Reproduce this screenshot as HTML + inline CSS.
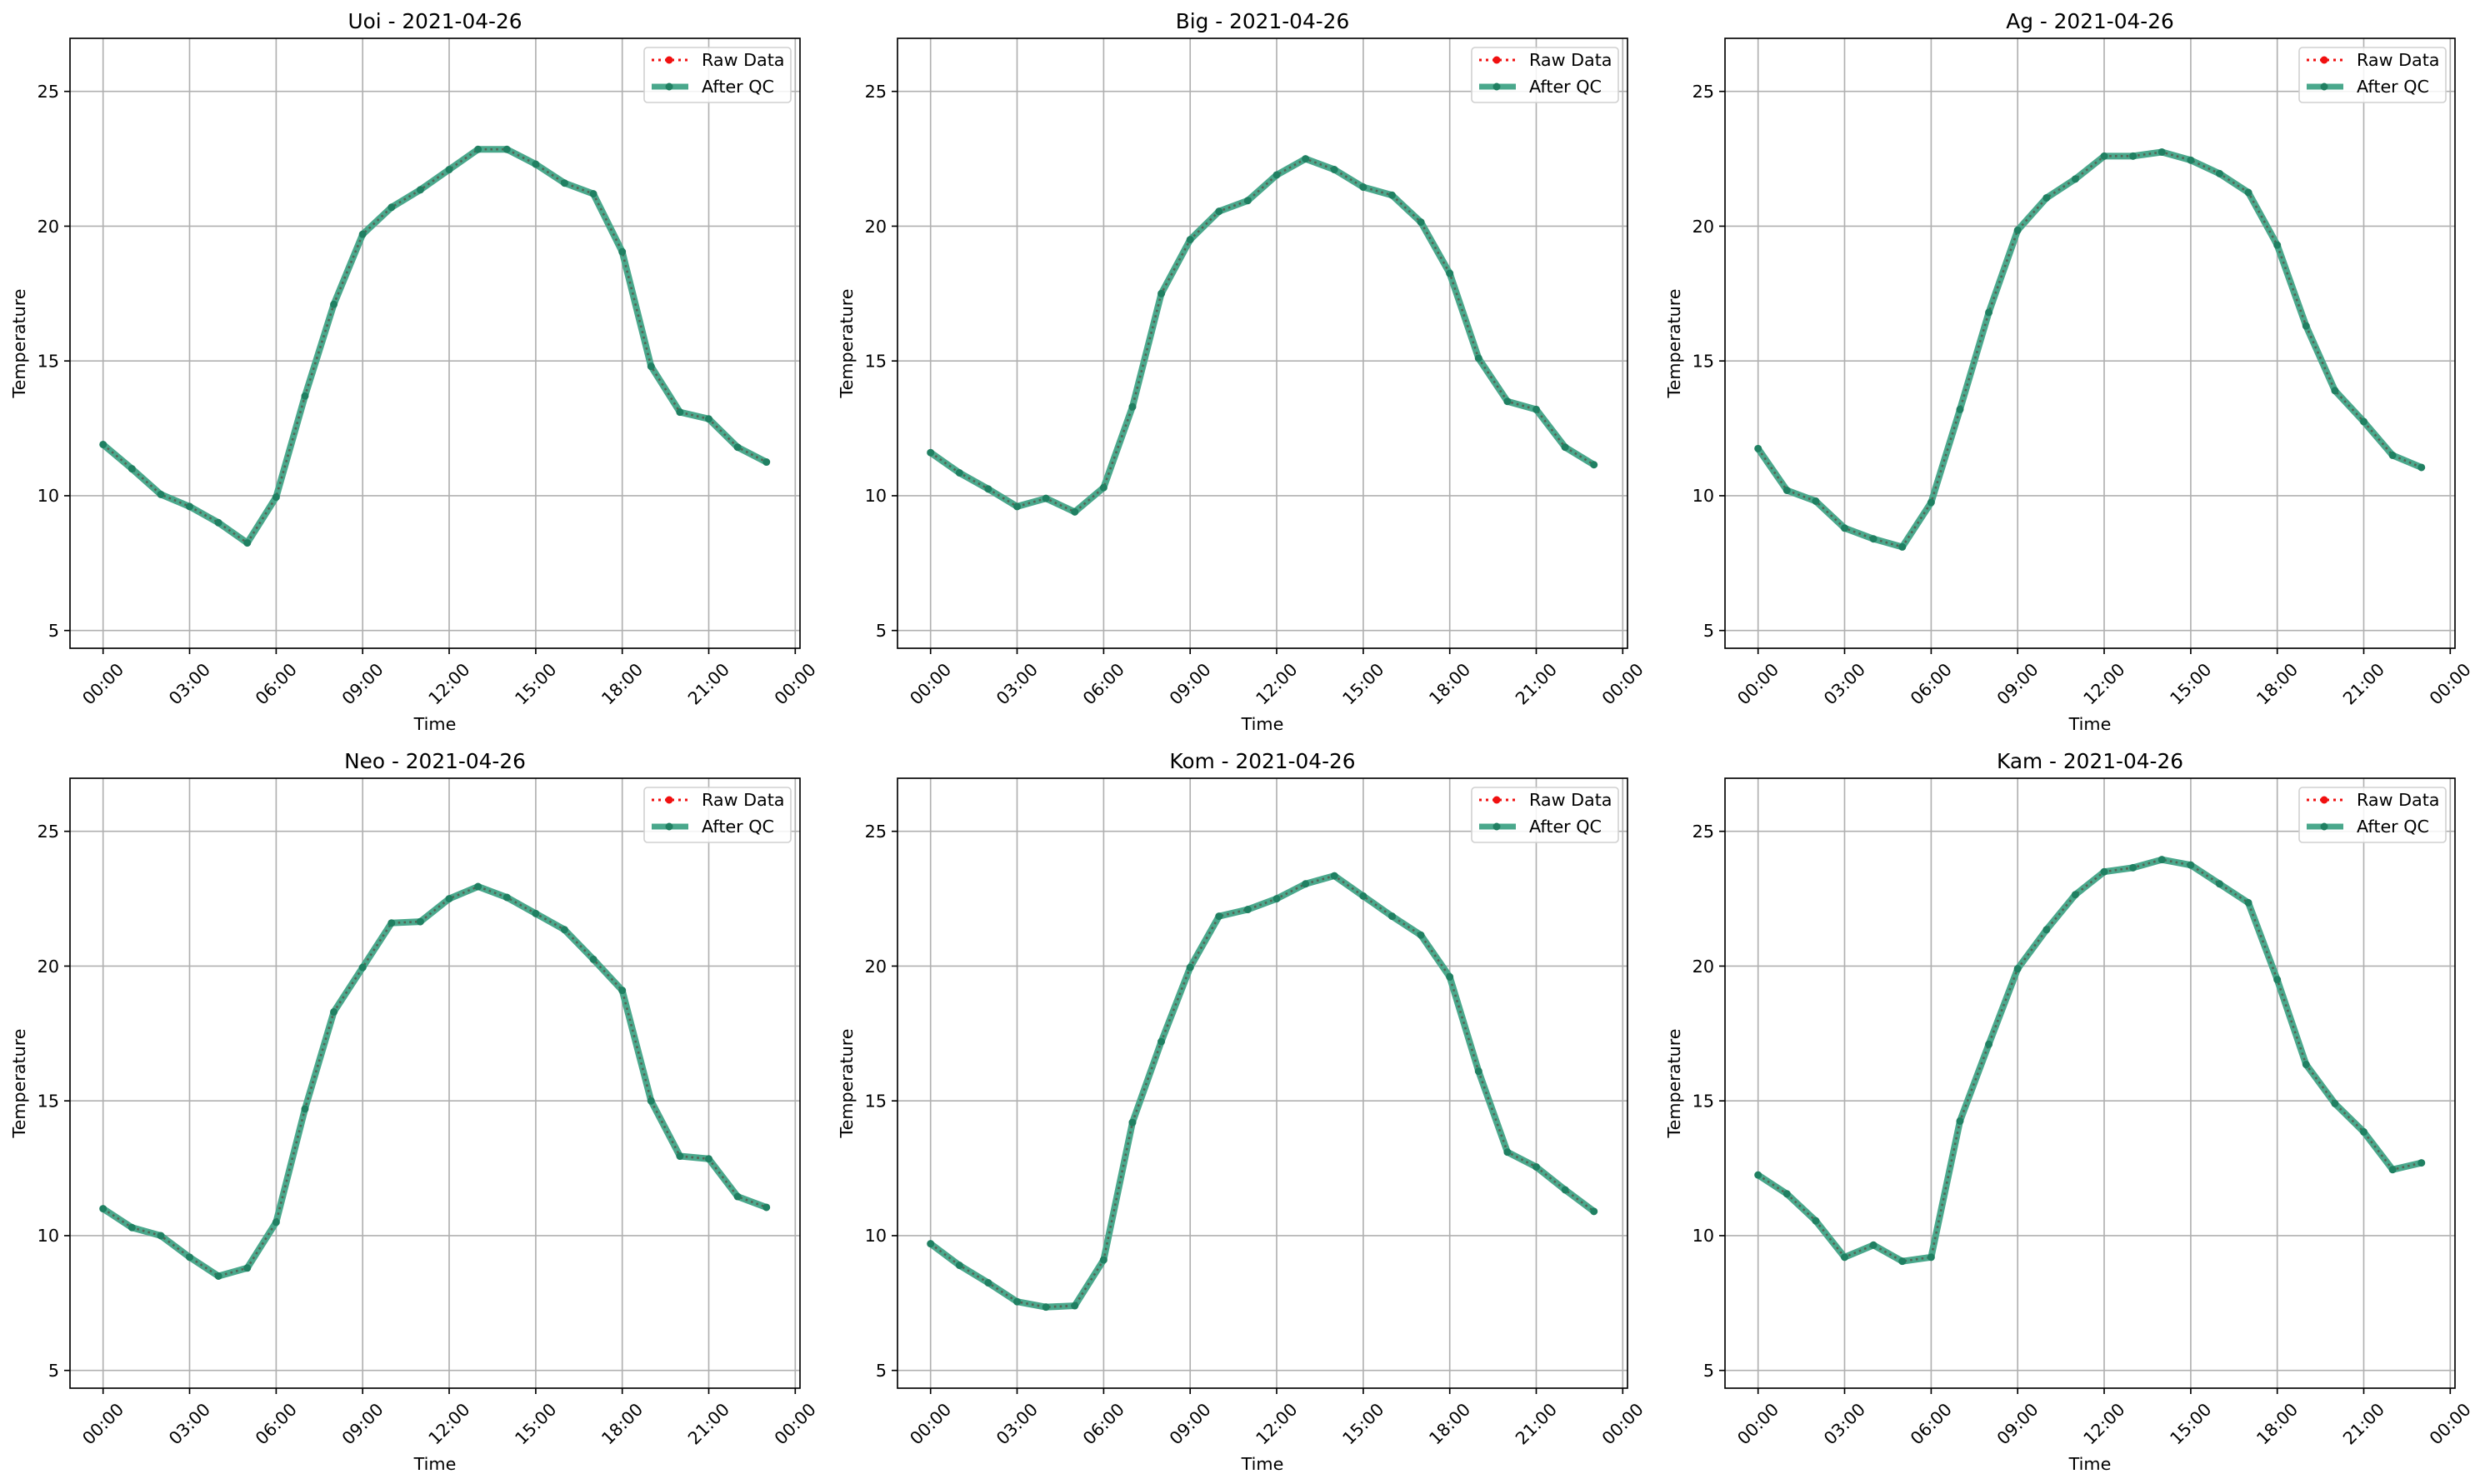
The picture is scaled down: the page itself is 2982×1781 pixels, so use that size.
<!DOCTYPE html>
<html><head><meta charset="utf-8"><style>
html,body{margin:0;padding:0;background:#fff}
svg{display:block}
text{font-family:"DejaVu Sans","Liberation Sans",sans-serif;fill:#000}
.tk{font-size:20.7px}
.ti{font-size:24.8px}
.gr{stroke:#b0b0b0;stroke-width:1.65}
.ln{fill:none;stroke:rgb(74,168,140);stroke-width:8;stroke-linejoin:round;vector-effect:non-scaling-stroke}
.dt{fill:none;stroke:rgb(85,100,85);stroke-width:2.6;stroke-dasharray:2.6 4.2;vector-effect:non-scaling-stroke}
.mk{fill:none;stroke:rgb(32,128,98);stroke-width:9;stroke-linecap:round;vector-effect:non-scaling-stroke}
</style></head><body>
<svg width="2982" height="1781" viewBox="0 0 2982 1781" xmlns="http://www.w3.org/2000/svg">
<defs>
<g id="frame">
  <g class="gr">
    <line x1="123.7" y1="46" x2="123.7" y2="778"/><line x1="227.5" y1="46" x2="227.5" y2="778"/>
    <line x1="331.4" y1="46" x2="331.4" y2="778"/><line x1="435.2" y1="46" x2="435.2" y2="778"/>
    <line x1="539" y1="46" x2="539" y2="778"/><line x1="642.9" y1="46" x2="642.9" y2="778"/>
    <line x1="746.7" y1="46" x2="746.7" y2="778"/><line x1="850.5" y1="46" x2="850.5" y2="778"/>
    <line x1="954.3" y1="46" x2="954.3" y2="778"/>
    <line x1="84" y1="756.7" x2="960" y2="756.7"/><line x1="84" y1="594.95" x2="960" y2="594.95"/>
    <line x1="84" y1="433.2" x2="960" y2="433.2"/><line x1="84" y1="271.45" x2="960" y2="271.45"/>
    <line x1="84" y1="109.7" x2="960" y2="109.7"/>
  </g>
  <g stroke="#000" stroke-width="1.65">
    <line x1="123.7" y1="778" x2="123.7" y2="785"/><line x1="227.5" y1="778" x2="227.5" y2="785"/>
    <line x1="331.4" y1="778" x2="331.4" y2="785"/><line x1="435.2" y1="778" x2="435.2" y2="785"/>
    <line x1="539" y1="778" x2="539" y2="785"/><line x1="642.9" y1="778" x2="642.9" y2="785"/>
    <line x1="746.7" y1="778" x2="746.7" y2="785"/><line x1="850.5" y1="778" x2="850.5" y2="785"/>
    <line x1="954.3" y1="778" x2="954.3" y2="785"/>
    <line x1="77" y1="756.7" x2="84" y2="756.7"/><line x1="77" y1="594.95" x2="84" y2="594.95"/>
    <line x1="77" y1="433.2" x2="84" y2="433.2"/><line x1="77" y1="271.45" x2="84" y2="271.45"/>
    <line x1="77" y1="109.7" x2="84" y2="109.7"/>
  </g>
  <g class="tk" text-anchor="end">
    <text x="71" y="764">5</text><text x="71" y="602">10</text><text x="71" y="440.5">15</text>
    <text x="71" y="279">20</text><text x="71" y="117">25</text>
  </g>
  <g class="tk" text-anchor="middle" dominant-baseline="central">
    <text transform="translate(123.7,821) rotate(-45)">00:00</text>
    <text transform="translate(227.5,821) rotate(-45)">03:00</text>
    <text transform="translate(331.4,821) rotate(-45)">06:00</text>
    <text transform="translate(435.2,821) rotate(-45)">09:00</text>
    <text transform="translate(539,821) rotate(-45)">12:00</text>
    <text transform="translate(642.9,821) rotate(-45)">15:00</text>
    <text transform="translate(746.7,821) rotate(-45)">18:00</text>
    <text transform="translate(850.5,821) rotate(-45)">21:00</text>
    <text transform="translate(954.3,821) rotate(-45)">00:00</text>
  </g>
  <text class="tk" x="522" y="876" text-anchor="middle">Time</text>
  <text class="tk" transform="translate(30,412) rotate(-90)" text-anchor="middle">Temperature</text>
</g>
<g id="legend">
  <rect x="773" y="57" width="176" height="66" rx="4" fill="#fff" fill-opacity="0.85" stroke="#d0d0d0" stroke-width="1.6"/>
  <line x1="782" y1="72" x2="826" y2="72" stroke="#f01010" stroke-width="3" stroke-dasharray="3 5"/>
  <circle cx="803" cy="72" r="4.5" fill="#f01010"/>
  <line x1="782" y1="104" x2="826" y2="104" stroke="rgb(74,168,140)" stroke-width="7"/>
  <circle cx="803" cy="104" r="4.5" fill="rgb(32,128,98)"/>
  <text class="tk" x="842" y="79">Raw Data</text>
  <text class="tk" x="842" y="111">After QC</text>
</g>
</defs>

<!-- panel Uoi -->
<g transform="translate(0,0)">
<use href="#frame"/>
<text class="ti" x="522" y="34" text-anchor="middle">Uoi - 2021-04-26</text>
<g transform="translate(123.7,918.45) scale(34.61,-32.35)">
<path class="ln" d="M0 11.9L1 11L2 10.05L3 9.6L4 9L5 8.25L6 9.95L7 13.7L8 17.1L9 19.7L10 20.7L11 21.35L12 22.1L13 22.85L14 22.85L15 22.3L16 21.6L17 21.2L18 19.05L19 14.8L20 13.1L21 12.85L22 11.8L23 11.25"/>
<path class="dt" d="M0 11.9L1 11L2 10.05L3 9.6L4 9L5 8.25L6 9.95L7 13.7L8 17.1L9 19.7L10 20.7L11 21.35L12 22.1L13 22.85L14 22.85L15 22.3L16 21.6L17 21.2L18 19.05L19 14.8L20 13.1L21 12.85L22 11.8L23 11.25"/>
<path class="mk" d="M0 11.9h0M1 11h0M2 10.05h0M3 9.6h0M4 9h0M5 8.25h0M6 9.95h0M7 13.7h0M8 17.1h0M9 19.7h0M10 20.7h0M11 21.35h0M12 22.1h0M13 22.85h0M14 22.85h0M15 22.3h0M16 21.6h0M17 21.2h0M18 19.05h0M19 14.8h0M20 13.1h0M21 12.85h0M22 11.8h0M23 11.25h0"/>
</g>
<use href="#legend"/>
<rect x="84" y="46" width="876" height="732" fill="none" stroke="#000" stroke-width="1.65"/>
</g>

<!-- panel Big -->
<g transform="translate(993,0)">
<use href="#frame"/>
<text class="ti" x="522" y="34" text-anchor="middle">Big - 2021-04-26</text>
<g transform="translate(123.7,918.45) scale(34.61,-32.35)">
<path class="ln" d="M0 11.6L1 10.85L2 10.25L3 9.6L4 9.9L5 9.4L6 10.3L7 13.3L8 17.5L9 19.5L10 20.55L11 20.95L12 21.9L13 22.5L14 22.1L15 21.45L16 21.15L17 20.15L18 18.25L19 15.1L20 13.5L21 13.2L22 11.8L23 11.15"/>
<path class="dt" d="M0 11.6L1 10.85L2 10.25L3 9.6L4 9.9L5 9.4L6 10.3L7 13.3L8 17.5L9 19.5L10 20.55L11 20.95L12 21.9L13 22.5L14 22.1L15 21.45L16 21.15L17 20.15L18 18.25L19 15.1L20 13.5L21 13.2L22 11.8L23 11.15"/>
<path class="mk" d="M0 11.6h0M1 10.85h0M2 10.25h0M3 9.6h0M4 9.9h0M5 9.4h0M6 10.3h0M7 13.3h0M8 17.5h0M9 19.5h0M10 20.55h0M11 20.95h0M12 21.9h0M13 22.5h0M14 22.1h0M15 21.45h0M16 21.15h0M17 20.15h0M18 18.25h0M19 15.1h0M20 13.5h0M21 13.2h0M22 11.8h0M23 11.15h0"/>
</g>
<use href="#legend"/>
<rect x="84" y="46" width="876" height="732" fill="none" stroke="#000" stroke-width="1.65"/>
</g>

<!-- panel Ag -->
<g transform="translate(1986,0)">
<use href="#frame"/>
<text class="ti" x="522" y="34" text-anchor="middle">Ag - 2021-04-26</text>
<g transform="translate(123.7,918.45) scale(34.61,-32.35)">
<path class="ln" d="M0 11.75L1 10.2L2 9.8L3 8.8L4 8.4L5 8.1L6 9.75L7 13.2L8 16.8L9 19.85L10 21.05L11 21.75L12 22.6L13 22.6L14 22.75L15 22.45L16 21.95L17 21.25L18 19.3L19 16.3L20 13.9L21 12.75L22 11.5L23 11.05"/>
<path class="dt" d="M0 11.75L1 10.2L2 9.8L3 8.8L4 8.4L5 8.1L6 9.75L7 13.2L8 16.8L9 19.85L10 21.05L11 21.75L12 22.6L13 22.6L14 22.75L15 22.45L16 21.95L17 21.25L18 19.3L19 16.3L20 13.9L21 12.75L22 11.5L23 11.05"/>
<path class="mk" d="M0 11.75h0M1 10.2h0M2 9.8h0M3 8.8h0M4 8.4h0M5 8.1h0M6 9.75h0M7 13.2h0M8 16.8h0M9 19.85h0M10 21.05h0M11 21.75h0M12 22.6h0M13 22.6h0M14 22.75h0M15 22.45h0M16 21.95h0M17 21.25h0M18 19.3h0M19 16.3h0M20 13.9h0M21 12.75h0M22 11.5h0M23 11.05h0"/>
</g>
<use href="#legend"/>
<rect x="84" y="46" width="876" height="732" fill="none" stroke="#000" stroke-width="1.65"/>
</g>

<!-- panel Neo -->
<g transform="translate(0,888)">
<use href="#frame"/>
<text class="ti" x="522" y="34" text-anchor="middle">Neo - 2021-04-26</text>
<g transform="translate(123.7,918.45) scale(34.61,-32.35)">
<path class="ln" d="M0 11L1 10.3L2 10L3 9.2L4 8.5L5 8.8L6 10.5L7 14.7L8 18.3L9 19.95L10 21.6L11 21.65L12 22.5L13 22.95L14 22.55L15 21.95L16 21.35L17 20.25L18 19.1L19 15L20 12.95L21 12.85L22 11.45L23 11.05"/>
<path class="dt" d="M0 11L1 10.3L2 10L3 9.2L4 8.5L5 8.8L6 10.5L7 14.7L8 18.3L9 19.95L10 21.6L11 21.65L12 22.5L13 22.95L14 22.55L15 21.95L16 21.35L17 20.25L18 19.1L19 15L20 12.95L21 12.85L22 11.45L23 11.05"/>
<path class="mk" d="M0 11h0M1 10.3h0M2 10h0M3 9.2h0M4 8.5h0M5 8.8h0M6 10.5h0M7 14.7h0M8 18.3h0M9 19.95h0M10 21.6h0M11 21.65h0M12 22.5h0M13 22.95h0M14 22.55h0M15 21.95h0M16 21.35h0M17 20.25h0M18 19.1h0M19 15h0M20 12.95h0M21 12.85h0M22 11.45h0M23 11.05h0"/>
</g>
<use href="#legend"/>
<rect x="84" y="46" width="876" height="732" fill="none" stroke="#000" stroke-width="1.65"/>
</g>

<!-- panel Kom -->
<g transform="translate(993,888)">
<use href="#frame"/>
<text class="ti" x="522" y="34" text-anchor="middle">Kom - 2021-04-26</text>
<g transform="translate(123.7,918.45) scale(34.61,-32.35)">
<path class="ln" d="M0 9.7L1 8.9L2 8.25L3 7.55L4 7.35L5 7.4L6 9.1L7 14.2L8 17.2L9 19.95L10 21.85L11 22.1L12 22.5L13 23.05L14 23.35L15 22.6L16 21.85L17 21.15L18 19.6L19 16.1L20 13.1L21 12.55L22 11.7L23 10.9"/>
<path class="dt" d="M0 9.7L1 8.9L2 8.25L3 7.55L4 7.35L5 7.4L6 9.1L7 14.2L8 17.2L9 19.95L10 21.85L11 22.1L12 22.5L13 23.05L14 23.35L15 22.6L16 21.85L17 21.15L18 19.6L19 16.1L20 13.1L21 12.55L22 11.7L23 10.9"/>
<path class="mk" d="M0 9.7h0M1 8.9h0M2 8.25h0M3 7.55h0M4 7.35h0M5 7.4h0M6 9.1h0M7 14.2h0M8 17.2h0M9 19.95h0M10 21.85h0M11 22.1h0M12 22.5h0M13 23.05h0M14 23.35h0M15 22.6h0M16 21.85h0M17 21.15h0M18 19.6h0M19 16.1h0M20 13.1h0M21 12.55h0M22 11.7h0M23 10.9h0"/>
</g>
<use href="#legend"/>
<rect x="84" y="46" width="876" height="732" fill="none" stroke="#000" stroke-width="1.65"/>
</g>

<!-- panel Kam -->
<g transform="translate(1986,888)">
<use href="#frame"/>
<text class="ti" x="522" y="34" text-anchor="middle">Kam - 2021-04-26</text>
<g transform="translate(123.7,918.45) scale(34.61,-32.35)">
<path class="ln" d="M0 12.25L1 11.55L2 10.55L3 9.2L4 9.65L5 9.05L6 9.2L7 14.25L8 17.1L9 19.9L10 21.35L11 22.65L12 23.5L13 23.65L14 23.95L15 23.75L16 23.05L17 22.35L18 19.5L19 16.35L20 14.9L21 13.85L22 12.45L23 12.7"/>
<path class="dt" d="M0 12.25L1 11.55L2 10.55L3 9.2L4 9.65L5 9.05L6 9.2L7 14.25L8 17.1L9 19.9L10 21.35L11 22.65L12 23.5L13 23.65L14 23.95L15 23.75L16 23.05L17 22.35L18 19.5L19 16.35L20 14.9L21 13.85L22 12.45L23 12.7"/>
<path class="mk" d="M0 12.25h0M1 11.55h0M2 10.55h0M3 9.2h0M4 9.65h0M5 9.05h0M6 9.2h0M7 14.25h0M8 17.1h0M9 19.9h0M10 21.35h0M11 22.65h0M12 23.5h0M13 23.65h0M14 23.95h0M15 23.75h0M16 23.05h0M17 22.35h0M18 19.5h0M19 16.35h0M20 14.9h0M21 13.85h0M22 12.45h0M23 12.7h0"/>
</g>
<use href="#legend"/>
<rect x="84" y="46" width="876" height="732" fill="none" stroke="#000" stroke-width="1.65"/>
</g>
</svg>
</body></html>
